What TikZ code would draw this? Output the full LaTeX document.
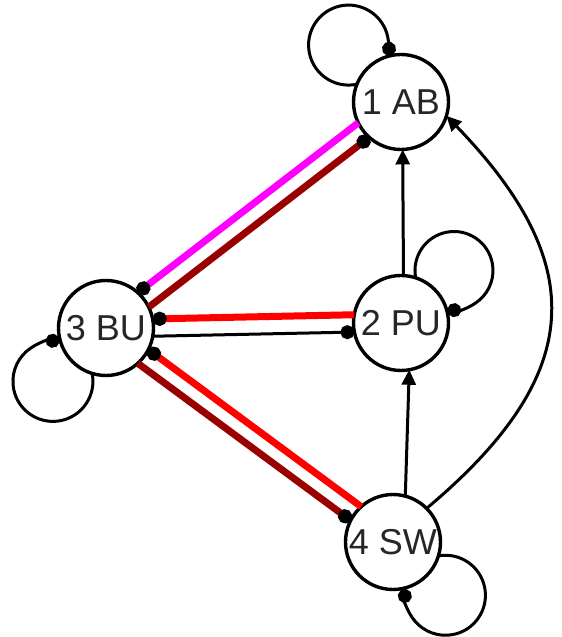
\documentclass[tikz,border=0pt]{standalone}
\usepackage{fontspec}
\setmainfont{Liberation Sans}
\usetikzlibrary{arrows.meta}
\definecolor{edgemag}{RGB}{255,0,255}
\definecolor{edgedark}{RGB}{153,0,0}
\definecolor{edgered}{RGB}{255,0,0}
\begin{document}
\begin{tikzpicture}[x=1pt,y=1pt,
  state/.style={circle, draw, line width=3.4pt, fill=white, minimum size=95pt,
    inner sep=0pt, outer sep=0pt, font=\fontsize{36}{40}\selectfont, text=black!85},
  thinedge/.style={line width=3pt},
  band/.style={line width=7pt},
  dottip/.style={-{Circle[length=14pt,width=14pt,color=black]}},
  tritip/.style={-{Triangle[length=15pt,width=14pt]}}
]
\useasboundingbox (0,0) rectangle (562,637);
\node[state] (ab) at (401,535) {1 AB};
\node[state] (pu) at (401,314) {2 PU};
\node[state] (bu) at (106,309) {3 BU};
\node[state] (sw) at (393,95) {4 SW};

% BU -- AB pair
\draw[band, edgemag, dottip] (ab.206.9) -- (bu.48.0);
\draw[band, edgedark, dottip] (bu.26.9) -- (ab.228.1);
% BU -- PU pair
\draw[band, edgered, dottip] (pu.170.4) -- (bu.11.6);
\draw[thinedge, dottip] (bu.350.4) -- (pu.191.6);
% BU -- SW pair
\draw[band, edgered, dottip] (sw.132.7) -- (bu.333.9);
\draw[band, edgedark, dottip] (bu.312.7) -- (sw.153.9);

% straight arrows
\draw[thinedge, tritip] (pu.87.7) -- (ab.272.3);
\draw[thinedge, tritip] (sw.75) -- (pu.280);
\draw[thinedge, tritip] (sw.45) to[out=40, in=-46, looseness=1.35] (ab.-17);

% loops
\draw[thinedge, dottip] (ab.158.6) arc[start angle=-77.9, end angle=-375.2, radius=40];
\draw[thinedge, dottip] (bu.253.6) arc[start angle=11.5, end angle=-279.5, radius=40];
\draw[thinedge, dottip] (pu.72.4) arc[start angle=190.8, end angle=-99.8, radius=39];
\draw[thinedge, dottip] (sw.343.9) arc[start angle=100.1, end angle=-188.9, radius=40];
\end{tikzpicture}
\end{document}
